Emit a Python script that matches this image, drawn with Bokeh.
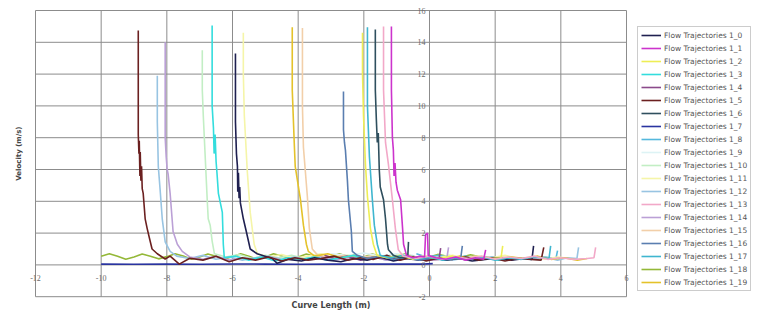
import math
from bokeh.plotting import figure
from bokeh.models import Legend, LegendItem, LabelSet, Label, ColumnDataSource
from bokeh.embed import file_html
from bokeh.resources import INLINE

# ---------------- data (curve length m, velocity m/s) ----------------
x_ticks = [-12, -10, -8, -6, -4, -2, 0, 2, 4, 6]
y_ticks = [-2, 0, 2, 4, 6, 8, 10, 12, 14, 16]

traj_1_0 = [(-5.91,13.3),(-5.91,9.0),(-5.88,7.0),(-5.85,6.2),(-5.84,4.6),(-5.82,5.8),(-5.80,4.2),(-5.78,4.9),
            (-5.76,3.9),(-5.67,2.9),(-5.58,2.1),(-5.46,1.0),(-5.25,0.7),(-4.79,0.4),(-4.64,0.1),(-4.3,0.35),
            (-3.9,0.25),(-3.5,0.45),(-3.1,0.3),(-2.7,0.2),(-2.3,0.4),(-1.9,0.3),(-1.5,0.5),(-1.1,0.25),(-0.7,0.4),
            (-0.3,0.3),(0.1,0.45),(0.5,0.3),(0.9,0.4),(1.3,0.25),(1.7,0.35),(2.1,0.45),(2.5,0.3),(2.9,0.4),
            (3.12,0.35),(3.17,1.2)]
traj_1_1 = [(-1.16,15.0),(-1.16,11.0),(-1.13,8.0),(-1.10,7.2),(-1.08,5.6),(-1.05,6.4),(-1.02,5.2),(-0.98,4.7),
            (-0.88,4.1),(-0.82,2.3),(-0.79,1.3),(-0.70,0.6),(-0.5,0.45),(-0.3,0.55),(-0.15,0.5),(-0.12,1.9),
            (-0.06,2.0),(-0.04,0.6),(0.2,0.45),(0.5,0.35),(0.8,0.5),(1.1,0.3),(1.4,0.45),(1.65,0.35),(1.71,0.95)]
traj_1_2 = [(-2.04,14.6),(-2.04,12.0),(-2.01,9.4),(-1.95,6.3),(-1.89,4.3),(-1.80,2.3),(-1.71,1.3),(-1.6,0.6),
            (-1.3,0.45),(-0.9,0.6),(-0.5,0.35),(-0.1,0.5),(0.3,0.4),(0.7,0.55),(1.1,0.35),(1.5,0.5),(1.9,0.4),
            (2.18,0.45),(2.23,1.2)]
traj_1_3 = [(-6.62,15.05),(-6.62,10.0),(-6.58,8.6),(-6.56,7.0),(-6.53,8.2),(-6.50,6.5),(-6.47,5.7),(-6.43,4.5),
            (-6.31,3.3),(-6.28,1.3),(-6.25,0.45),(-5.9,0.55),(-5.5,0.3),(-5.1,0.5),(-4.7,0.25),(-4.3,0.45),
            (-3.9,0.35),(-3.5,0.5),(-3.1,0.3),(-2.7,0.45),(-2.3,0.6),(-1.9,0.35),(-1.5,0.5),(-1.1,0.3),(-0.7,0.45),
            (-0.3,0.35),(0.1,0.5),(0.5,0.3),(0.9,0.45),(1.3,0.35),(1.7,0.5),(2.1,0.3),(2.5,0.45),(2.8,0.35)]
traj_1_4 = [(-3.2,0.6),(-2.9,0.4),(-2.5,0.55),(-2.1,0.3),(-1.7,0.5),(-1.3,0.35),(-0.9,0.55),(-0.5,0.4),
            (-0.1,0.3),(0.29,0.35),(0.34,1.05)]
traj_1_5 = [(-8.87,14.75),(-8.87,8.2),(-8.85,7.0),(-8.84,7.8),(-8.82,5.6),(-8.81,7.1),(-8.79,5.3),(-8.77,6.2),
            (-8.75,4.8),(-8.72,4.5),(-8.66,2.9),(-8.60,2.3),(-8.52,1.6),(-8.45,1.0),(-8.29,0.7),(-8.05,0.37),
            (-7.90,0.55),(-7.62,0.05),(-7.30,0.42),(-6.90,0.3),(-6.50,0.55),(-6.10,0.2),(-5.70,0.45),(-5.30,0.3),
            (-4.90,0.5),(-4.50,0.25),(-4.10,0.45),(-3.70,0.3),(-3.30,0.4),(-2.90,0.55),(-2.50,0.3),(-2.10,0.45),
            (-1.70,0.35),(-1.30,0.6),(-0.90,0.3),(-0.50,0.5),(-0.10,0.25),(0.30,0.45),(0.70,0.35),(1.10,0.5),
            (1.50,0.3),(1.90,0.45),(2.30,0.25),(2.70,0.4),(3.10,0.35),(3.40,0.3),(3.48,1.1)]
traj_1_6 = [(-1.65,14.8),(-1.65,11.0),(-1.62,9.2),(-1.59,7.7),(-1.56,8.3),(-1.53,6.0),(-1.50,4.9),(-1.40,4.1),
            (-1.34,2.9),(-1.28,1.3),(-1.25,0.95),(-1.1,0.6),(-0.9,0.45),(-0.7,0.5),(-0.66,0.6),(-0.64,1.45)]
traj_1_7 = [(-10.0,0.05),(-9.0,0.04),(-8.0,0.05),(-7.0,0.04),(-6.0,0.06),(-5.0,0.05),(-4.0,0.04),(-3.0,0.06),
            (-2.0,0.05),(-1.0,0.06),(-0.2,0.05),(0.1,0.08)]
traj_1_8 = [(-0.4,0.7),(-0.1,0.5),(0.3,0.6),(0.7,0.4),(1.1,0.55),(1.5,0.35),(1.9,0.5),(2.3,0.3),(2.7,0.45),
            (3.1,0.35),(3.5,0.5),(3.85,0.4),(3.9,0.9)]
traj_1_9 = [(-3.0,0.7),(-2.5,0.6),(-2.0,0.75),(-1.5,0.55),(-1.0,0.7),(-0.5,0.6)]
traj_1_10 = [(-6.92,13.5),(-6.92,11.0),(-6.89,9.4),(-6.77,4.1),(-6.74,2.9),(-6.68,2.5),(-6.62,1.5),(-6.55,0.7),
             (-6.2,0.5),(-5.8,0.65),(-5.4,0.4),(-5.0,0.6),(-4.6,0.45),(-4.2,0.6),(-3.8,0.4),(-3.4,0.55),(-3.0,0.45),
             (-2.6,0.6),(-2.2,0.4),(-1.8,0.55),(-1.4,0.45),(-1.0,0.6),(-0.6,0.4),(-0.2,0.55),(0.2,0.45),(0.6,0.6),
             (1.0,0.4),(1.5,0.5)]
traj_1_11 = [(-5.67,14.6),(-5.67,12.0),(-5.64,9.4),(-5.55,5.9),(-5.46,3.3),(-5.34,1.3),(-5.24,0.7),(-4.9,0.5),
             (-4.5,0.65),(-4.1,0.4),(-3.7,0.55),(-3.3,0.7),(-2.9,0.45),(-2.5,0.6),(-2.1,0.4),(-1.7,0.55),(-1.3,0.45),
             (-0.9,0.6),(-0.5,0.4),(-0.1,0.55),(0.3,0.45),(0.7,0.6),(1.1,0.4),(1.5,0.55),(1.9,0.45),(2.3,0.6),
             (2.7,0.4),(3.1,0.5),(3.5,0.35),(3.9,0.5),(4.3,0.4)]
traj_1_12 = [(-8.29,11.9),(-8.29,9.0),(-8.26,6.2),(-8.20,4.6),(-8.14,2.9),(-8.05,1.45),(-7.90,0.85),(-7.7,0.55),
             (-7.3,0.4),(-6.9,0.6),(-6.5,0.35),(-6.1,0.5),(-5.7,0.3),(-5.3,0.45),(-4.9,0.55),(-4.5,0.35),(-4.1,0.5),
             (-3.7,0.3),(-3.3,0.45),(-2.9,0.35),(-2.5,0.55),(-2.1,0.4),(-1.7,0.5),(-1.3,0.3),(-0.9,0.45),(-0.5,0.55),
             (-0.1,0.35),(0.3,0.5),(0.7,0.3),(1.1,0.45),(1.5,0.35),(1.9,0.5),(2.3,0.3),(2.7,0.45),(3.1,0.35),
             (3.5,0.5),(3.9,0.3),(4.2,0.45),(4.49,0.4),(4.54,1.1)]
traj_1_13 = [(-1.40,15.0),(-1.40,11.0),(-1.34,7.7),(-1.25,6.3),(-1.13,4.1),(-1.04,2.3),(-0.95,0.95),(-0.8,0.55),
             (-0.4,0.4),(0.0,0.55),(0.4,0.35),(0.8,0.5),(1.2,0.4),(1.6,0.55),(2.0,0.35),(2.4,0.5),(2.8,0.4),
             (3.2,0.55),(3.6,0.35),(4.0,0.45),(4.4,0.35),(4.8,0.4),(5.01,0.45),(5.06,1.1)]
traj_1_14 = [(-8.05,14.0),(-8.05,8.0),(-8.02,6.8),(-7.99,6.0),(-7.96,5.7),(-7.90,4.5),(-7.84,2.9),(-7.81,2.1),
             (-7.68,1.3),(-7.53,0.85),(-7.3,0.5),(-6.9,0.35),(-6.5,0.55),(-6.1,0.3),(-5.7,0.45),(-5.3,0.35),
             (-4.9,0.5),(-4.5,0.3),(-4.1,0.45),(-3.7,0.35),(-3.3,0.5),(-2.9,0.3),(-2.5,0.45),(-2.1,0.35),(-1.7,0.5),
             (-1.3,0.3),(-0.9,0.45),(-0.5,0.35),(-0.1,0.5),(0.3,0.4),(0.53,0.45),(0.58,1.1)]
traj_1_15 = [(-3.87,14.9),(-3.87,10.0),(-3.84,7.4),(-3.72,4.3),(-3.66,2.3),(-3.57,1.0),(-3.4,0.6),(-3.0,0.45),
             (-2.6,0.6),(-2.2,0.4),(-1.8,0.55),(-1.4,0.35),(-1.0,0.5),(-0.6,0.4),(-0.2,0.55),(0.2,0.35),(0.6,0.5),
             (1.0,0.4),(1.4,0.55),(1.8,0.35),(2.2,0.5),(2.6,0.4)]
traj_1_16 = [(-2.62,10.9),(-2.62,8.5),(-2.59,7.7),(-2.56,7.2),(-2.50,5.3),(-2.47,4.1),(-2.38,2.1),(-2.35,0.85),
             (-2.2,0.6),(-1.9,0.4),(-1.5,0.55),(-1.1,0.35),(-0.7,0.5),(-0.3,0.3),(0.1,0.45),(0.5,0.35),(0.95,0.4),
             (1.0,1.2)]
traj_1_17 = [(-1.89,14.95),(-1.89,10.0),(-1.83,6.8),(-1.74,4.1),(-1.68,2.5),(-1.59,1.3),(-1.5,0.6),(-1.2,0.45),
             (-0.8,0.6),(-0.4,0.35),(0.0,0.5),(0.4,0.3),(0.8,0.45),(1.2,0.35),(1.6,0.5),(2.0,0.3),(2.4,0.45),
             (2.8,0.35),(3.2,0.5),(3.64,0.4),(3.69,1.2)]
traj_1_18 = [(-10.0,0.55),(-9.75,0.7),(-9.5,0.55),(-9.25,0.36),(-9.0,0.5),(-8.75,0.68),(-8.5,0.55),(-8.25,0.38),
             (-8.0,0.52),(-7.75,0.7),(-7.5,0.56),(-7.25,0.36),(-7.0,0.5),(-6.75,0.68),(-6.5,0.55),(-6.25,0.38),
             (-6.0,0.52),(-5.75,0.7),(-5.5,0.55),(-5.25,0.36),(-5.0,0.5),(-4.75,0.7),(-4.5,0.56),(-4.25,0.38),
             (-4.0,0.5),(-3.75,0.68),(-3.5,0.55),(-3.25,0.36),(-3.0,0.52),(-2.75,0.7),(-2.5,0.55),(-2.25,0.38),
             (-2.0,0.5),(-1.75,0.68),(-1.5,0.56),(-1.25,0.36),(-1.0,0.52),(-0.75,0.7),(-0.5,0.55),(-0.25,0.38),
             (0.0,0.5),(0.25,0.66),(0.5,0.55),(0.75,0.38),(1.0,0.5),(1.25,0.64),(1.5,0.52),(1.75,0.4),(2.0,0.5)]
traj_1_19 = [(-4.18,14.95),(-4.18,11.0),(-4.12,7.7),(-4.09,6.2),(-3.93,4.1),(-3.84,2.5),(-3.75,1.3),(-3.69,0.85),
             (-3.5,0.55),(-3.1,0.7),(-2.7,0.45),(-2.3,0.6),(-1.9,0.4),(-1.5,0.55),(-1.1,0.45),(-0.7,0.6),(-0.3,0.4),
             (0.1,0.5),(0.5,0.35),(0.9,0.55),(1.3,0.4),(1.7,0.5),(2.1,0.35),(2.5,0.5),(2.9,0.4),(3.3,0.55),
             (3.7,0.35),(4.1,0.45),(4.5,0.3),(4.8,0.4)]

series_names = ["Flow Trajectories 1_%d" % i for i in range(20)]
series_data = [traj_1_0, traj_1_1, traj_1_2, traj_1_3, traj_1_4, traj_1_5, traj_1_6, traj_1_7, traj_1_8, traj_1_9,
               traj_1_10, traj_1_11, traj_1_12, traj_1_13, traj_1_14, traj_1_15, traj_1_16, traj_1_17, traj_1_18,
               traj_1_19]
series_colors = ["#1F2050", "#CC33CC", "#EEEE55", "#33DDDD", "#8B4A8B", "#6B2020", "#2F4F5E", "#2A34A0",
                 "#55B8DD", "#DDF3F5", "#C2EEC4", "#F5F5A8", "#98C4E2", "#F2A8C8", "#BBA0D6", "#F2CFA9",
                 "#5A7EB0", "#3FB6CF", "#94B838", "#E4C22A"]
draw_order = [7, 18, 9, 8, 10, 11, 15, 12, 14, 4, 19, 3, 0, 5, 16, 2, 17, 6, 13, 1]

# ---------------- layout ----------------
W, H = 764, 310
PX_LEFT, PX_RIGHT = 35, 626        # pixel positions of x = -12 and x = 6
PX_TOP, SY = 10, 15.9              # pixel of y = 16, pixels per unit
SX = (PX_RIGHT - PX_LEFT) / (x_ticks[-1] - x_ticks[0])
x0 = x_ticks[0] - PX_LEFT / SX
x1 = x_ticks[-1] + (W - PX_RIGHT) / SX
y1 = y_ticks[-1] + PX_TOP / SY
y0 = y1 - H / SY

p = figure(width=W, height=H, x_range=(x0, x1), y_range=(y0, y1),
           output_backend="svg", toolbar_location=None,
           min_border_left=0, min_border_right=0, min_border_top=0, min_border_bottom=0)
p.xaxis.visible = False
p.yaxis.visible = False
p.grid.visible = False
p.outline_line_color = None
p.background_fill_color = "white"
p.border_fill_color = "white"

# grid box
ymin, ymax = y_ticks[0], y_ticks[-1]
xmin, xmax = x_ticks[0], x_ticks[-1]
p.segment(x0=x_ticks, y0=[ymin] * len(x_ticks), x1=x_ticks, y1=[ymax] * len(x_ticks),
          line_color="#8c8c8c", line_width=1)
p.segment(x0=[xmin] * len(y_ticks), y0=y_ticks, x1=[xmax] * len(y_ticks), y1=y_ticks,
          line_color="#8c8c8c", line_width=1)

renderers = {}
for i in draw_order:
    xs = [pt[0] for pt in series_data[i]]
    vs = [pt[1] for pt in series_data[i]]
    renderers[i] = p.line(xs, vs, line_color=series_colors[i], line_width=1.6)

# tick labels on the axes crossing at the origin
xsrc = ColumnDataSource(dict(x=x_ticks, y=[0] * len(x_ticks), t=[str(v) for v in x_ticks]))
p.add_layout(LabelSet(x="x", y="y", text="t", source=xsrc, y_offset=-13, text_align="center",
                      text_baseline="middle", text_font="DejaVu Sans", text_font_size="8px",
                      text_color="#6a6a6a"))
ysrc = ColumnDataSource(dict(x=[0] * len(y_ticks), y=y_ticks, t=[str(v) for v in y_ticks]))
p.add_layout(LabelSet(x="x", y="y", text="t", source=ysrc, x_offset=-4, text_align="right",
                      text_baseline="middle", text_font="DejaVu Sans", text_font_size="8px",
                      text_color="#6a6a6a"))

# axis titles
p.add_layout(Label(x=xmin - 17 / SX, y=(ymin + ymax) / 2, text="Velocity (m/s)", angle=math.pi / 2,
                   text_align="center", text_baseline="middle", text_font="DejaVu Sans",
                   text_font_size="7px", text_font_style="bold", text_color="#444444"))
p.add_layout(Label(x=(xmin + xmax) / 2, y=ymin - 9 / SY, text="Curve Length (m)",
                   text_align="center", text_baseline="middle", text_font="DejaVu Sans",
                   text_font_size="8px", text_font_style="bold", text_color="#444444"))

legend = Legend(items=[LegendItem(label=series_names[i], renderers=[renderers[i]]) for i in range(20)],
                location=(637, 19))
legend.label_text_font = "DejaVu Sans"
legend.label_text_font_size = "7.5px"
legend.label_text_color = "#555555"
legend.glyph_width = 20
legend.glyph_height = 10
legend.label_height = 10
legend.label_standoff = 3
legend.spacing = 3
legend.padding = 3
legend.margin = 0
legend.border_line_color = "#9a9a9a"
legend.background_fill_color = "white"
legend.background_fill_alpha = 1
p.add_layout(legend)

open("out.html", "w").write(file_html(p, INLINE))
